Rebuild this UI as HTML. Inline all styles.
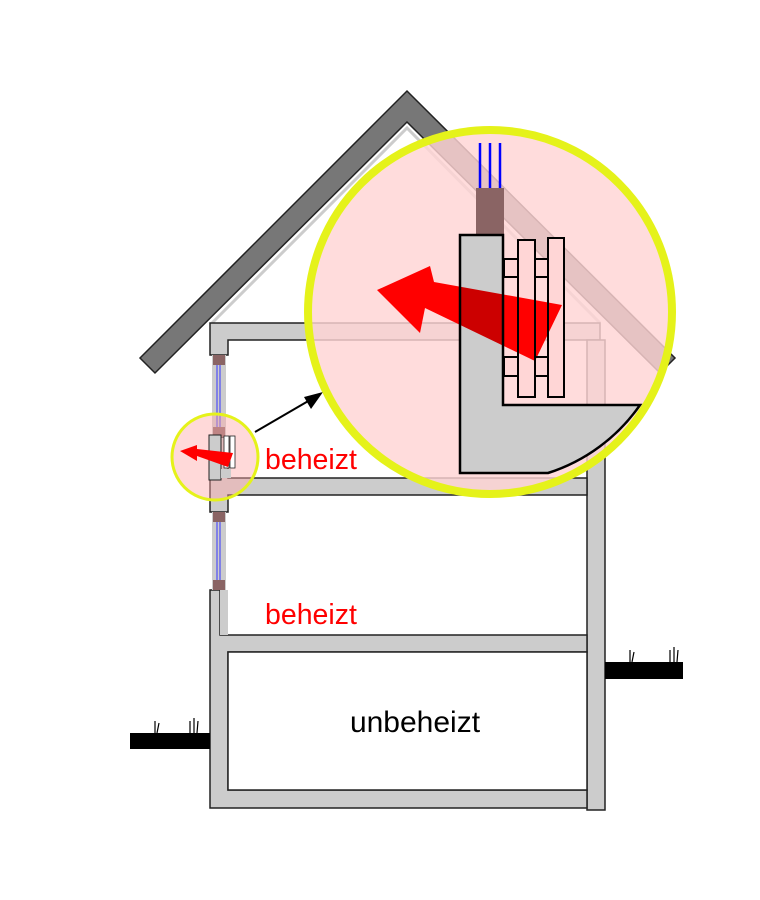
<!DOCTYPE html>
<html><head><style>html,body{margin:0;padding:0;background:#fff}svg{display:block}</style></head>
<body>
<svg width="760" height="900" viewBox="0 0 760 900" xmlns="http://www.w3.org/2000/svg" font-family="Liberation Sans, sans-serif">
<!-- roof -->
<polygon points="140,358 407,91 675,358 660,373 407,122 155,373" fill="#777" stroke="#222" stroke-width="1.5"/>
<!-- attic inner outline -->
<polyline points="212,323 407,128 600,323" fill="none" stroke="#ccc" stroke-width="3"/>
<!-- house structure -->
<g fill="#ccc" stroke="#222" stroke-width="1.5">
<path d="M210,323 H600 V340 H228 V355 H210 Z"/>
<rect x="587" y="340" width="18" height="470"/>
<path d="M210,437 H228 V478 H587 V495 H228 V512 H210 Z"/>
<path d="M210,590 H220 V635 H587 V652 H228 V790 H587 V808 H210 Z"/>
</g>
<rect x="228" y="652" width="359" height="138" fill="#fff" stroke="#222" stroke-width="1.5"/>
<!-- windows -->
<g>
<rect x="212" y="355" width="14" height="82" fill="#ccc"/>
<rect x="213" y="355" width="12" height="10" fill="#8a6464"/>
<rect x="213" y="427" width="12" height="10" fill="#8a6464"/>
<line x1="217" y1="365" x2="217" y2="427" stroke="#33f" stroke-width="1"/>
<line x1="220" y1="365" x2="220" y2="427" stroke="#33f" stroke-width="1"/>
<rect x="212" y="512" width="14" height="78" fill="#ccc"/>
<rect x="213" y="512" width="12" height="10" fill="#8a6464"/>
<rect x="213" y="580" width="12" height="10" fill="#8a6464"/>
<line x1="217" y1="522" x2="217" y2="580" stroke="#33f" stroke-width="1"/>
<line x1="220" y1="522" x2="220" y2="580" stroke="#33f" stroke-width="1"/>
<rect x="220" y="590" width="8" height="45" fill="#ccc"/>
</g>
<!-- ground -->
<rect x="130" y="733" width="80" height="16" fill="#000"/>
<rect x="605" y="662" width="78" height="17" fill="#000"/>
<g stroke="#000" stroke-width="1.2" fill="none">
<path d="M155,733 l0,-12 M157,733 l2,-10 M190,733 l0,-12 M194,733 l0,-15 M197,733 l1,-12"/>
<path d="M630,662 l0,-12 M632,662 l2,-10 M670,662 l0,-12 M674,662 l0,-15 M677,662 l1,-12"/>
</g>
<!-- texts -->
<text x="265" y="469" font-size="28.5" fill="#f00">beheizt</text>
<text x="265" y="624" font-size="28.5" fill="#f00">beheizt</text>
<text x="415" y="732" font-size="30" fill="#000" text-anchor="middle">unbeheizt</text>
<!-- connector -->
<line x1="255" y1="432" x2="310" y2="400" stroke="#000" stroke-width="2"/>
<polygon points="323,392 304,397 311,409" fill="#000"/>
<!-- small circle -->
<circle cx="215" cy="457" r="43" fill="rgba(255,170,170,0.45)"/>
<g>
<rect x="209" y="435" width="12" height="45" fill="#ccc" stroke="#222" stroke-width="1"/>
<rect x="221" y="469" width="10" height="9" fill="#ccc"/>
<rect x="224" y="436" width="5" height="32" fill="#fff" stroke="#222" stroke-width="0.8"/>
<rect x="230" y="436" width="5" height="32" fill="#fff" stroke="#222" stroke-width="0.8"/>
<polygon points="180,451 197,445 197,449 233,453 228,467 197,456 197,461" fill="#f00"/>
</g>
<circle cx="215" cy="457" r="43" fill="none" stroke="#e5f21a" stroke-width="3"/>
<!-- big circle -->
<defs><clipPath id="c"><circle cx="490" cy="312" r="182"/></clipPath></defs>
<circle cx="490" cy="312" r="182" fill="rgba(255,212,212,0.82)"/>
<g clip-path="url(#c)">
<line x1="480" y1="143" x2="480" y2="188" stroke="#00f" stroke-width="2.5"/>
<line x1="490" y1="143" x2="490" y2="188" stroke="#00f" stroke-width="2.5"/>
<line x1="500" y1="143" x2="500" y2="188" stroke="#00f" stroke-width="2.5"/>
<rect x="476" y="188" width="28" height="47" fill="#8a6464"/>
<path d="M460,235 H503 V405 H640 A178,178 0 0 1 548,473 H460 Z" fill="#ccc" stroke="#000" stroke-width="2.5"/>
<g fill="#ffd6d6" stroke="#000" stroke-width="2">
<rect x="504" y="259" width="14" height="18"/>
<rect x="504" y="357" width="14" height="19"/>
<rect x="535" y="259" width="13" height="18"/>
<rect x="535" y="357" width="13" height="19"/>
<rect x="518" y="240" width="17" height="157"/>
<rect x="548" y="238" width="16" height="159"/>
</g>
<polygon points="377,290 430,266 434,282 562,305 535,361 425,308 420,333" fill="#f00" style="mix-blend-mode:multiply"/>
</g>
<circle cx="490" cy="312" r="182" fill="none" stroke="#e5f21a" stroke-width="8"/>
</svg>
</body></html>
